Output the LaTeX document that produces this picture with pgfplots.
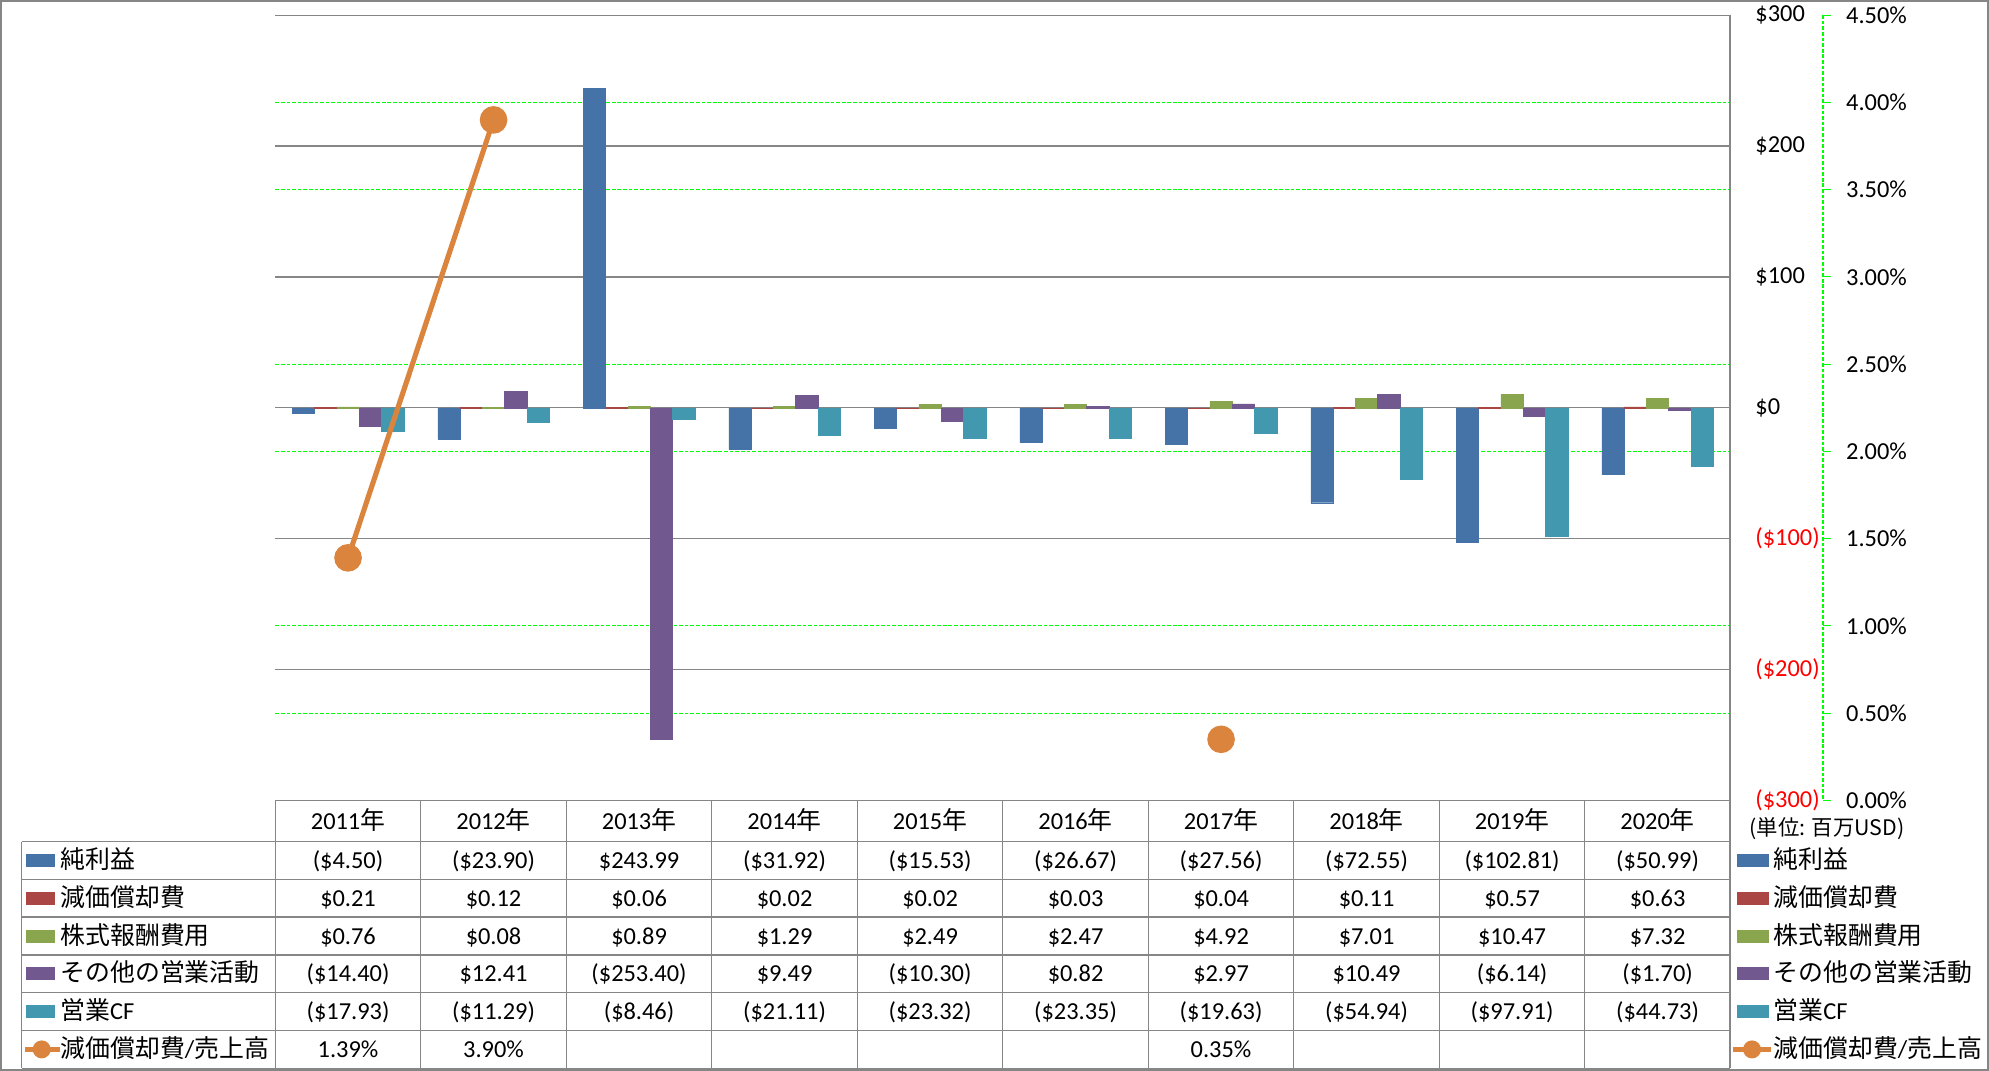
\documentclass[border=0pt]{standalone}
\usepackage{pgfplots}
\usepackage{pgfplotstable}
\pgfplotsset{compat=1.18}
\usepackage{fontspec}
\setmainfont{Carlito}
\newfontfamily\jp[Scale=1.02]{Noto Sans CJK JP}
\newcommand{\J}[1]{{\jp #1}}
\definecolor{cBlue}{HTML}{4572A7}
\definecolor{cRed}{HTML}{AA4643}
\definecolor{cGreen}{HTML}{89A54E}
\definecolor{cPurple}{HTML}{71588F}
\definecolor{cTeal}{HTML}{4198AF}
\definecolor{cOrange}{HTML}{DB843D}
\definecolor{cGray}{HTML}{868686}
\definecolor{cGrid}{HTML}{00FF00}

\pgfplotstableread{
x ni dep sbc oth ocf ratio
0 -4.50 0.21 0.76 -14.40 -17.93 1.39
1 -23.90 0.12 0.08 12.41 -11.29 3.90
2 243.99 0.06 0.89 -253.40 -8.46 nan
3 -31.92 0.02 1.29 9.49 -21.11 nan
4 -15.53 0.02 2.49 -10.30 -23.32 nan
5 -26.67 0.03 2.47 0.82 -23.35 nan
6 -27.56 0.04 4.92 2.97 -19.63 0.35
7 -72.55 0.11 7.01 10.49 -54.94 nan
8 -102.81 0.57 10.47 -6.14 -97.91 nan
9 -50.99 0.63 7.32 -1.70 -44.73 nan
}\data

\pgfplotsset{
  base/.style={at={(112.873pt,-328.164pt)}, anchor=south west, scale only axis,
    width=596.55pt, height=321.932pt, xmin=-0.5, xmax=9.5, xtick=\empty,
    axis line style={draw=none}, tick style={draw=none},
    /pgf/number format/assume math mode=true},
  bars/.style={ybar, bar width=0.1533, fill=#1, draw=#1, line width=0.2pt},
}
\newcommand{\tablerow}[2]{\foreach \v [count=\i from 0] in {#2} {\node[anchor=base, inner sep=0pt] at ({275.3+145.5*(\i+0.5)}, #1) {\v};}}

\begin{document}
\begin{tikzpicture}
\begin{scope}[x=0.41pt, y=-0.41pt]
\useasboundingbox (0,0) rectangle (1989,1071);
\end{scope}

% percent grid + labels
\begin{axis}[base, ymin=0, ymax=4.5,
  ytick={0,0.5,1,1.5,2,2.5,3,3.5,4,4.5},
  ymajorgrids, major grid style={cGrid, line width=0.45pt, dash pattern=on 1.5pt off 0.8pt},
  yticklabel pos=right,
  yticklabel style={anchor=west, inner sep=0pt, xshift=47.3pt},
  yticklabel={\pgfmathprintnumber[fixed,fixed zerofill,precision=2]{\tick}\%}]
\addplot[draw=none] coordinates {(0,0)};
\end{axis}

% bars
\begin{axis}[base, ymin=-300, ymax=300,
  ytick={-300,-200,-100,0,100,200,300},
  ymajorgrids, major grid style={cGray, line width=0.5pt},
  yticklabel pos=right,
  yticklabel style={anchor=west, inner sep=0pt, xshift=10.1pt},
  yticklabels={{\textcolor{red}{(\$300)}},{\textcolor{red}{(\$200)}},{\textcolor{red}{(\$100)}},{\$0},{\$100},{\$200},{\$300}}]
\addplot[bars=cBlue, bar shift=-0.3066] table[x=x,y=ni]{\data};
\addplot[bars=cRed, bar shift=-0.1533] table[x=x,y=dep]{\data};
\addplot[bars=cGreen, bar shift=0] table[x=x,y=sbc]{\data};
\addplot[bars=cPurple, bar shift=0.1533] table[x=x,y=oth]{\data};
\addplot[bars=cTeal, bar shift=0.3066] table[x=x,y=ocf]{\data};
\end{axis}

% ratio line
\begin{axis}[base, ymin=0, ymax=4.5, hide axis, clip=false]
\addplot[cOrange, line width=2.1pt, mark=*, mark size=4.6pt,
  mark options={draw=none, fill=cOrange}, unbounded coords=jump]
  table[x=x,y=ratio]{\data};
\end{axis}

\begin{scope}[x=0.41pt, y=-0.41pt]
\tikzset{tbl/.style={cGray, line width=0.5pt}}
% outer border
\draw[cGray, line width=0.6pt] (1,1) rectangle (1988,1070);
% table lines
\draw[tbl] (275.3,800.4) -- (1730.3,800.4);
\foreach \y in {841.5,879.3,917.1,954.9,992.7,1030.5,1068.3} \draw[tbl] (21.5,\y) -- (1730.3,\y);
\draw[tbl] (21.5,841.5) -- (21.5,1068.3);
\foreach \k in {0,...,9} \draw[tbl] ({275.3+145.5*\k},800.4) -- ({275.3+145.5*\k},1068.3);
\draw[cGray, line width=0.7pt] (1730.3,15.2) -- (1730.3,1068.3);
% secondary axis line
\draw[cGrid, line width=0.45pt, dash pattern=on 1.5pt off 0.8pt] (1823,15.2) -- (1823,800.4);
\foreach \k in {0,...,9} \draw[cGrid, line width=0.45pt] (1823,{800.4-87.244*\k}) -- (1831,{800.4-87.244*\k});
% header
\foreach \yr [count=\i from 0] in {2011,2012,2013,2014,2015,2016,2017,2018,2019,2020}
  \node[anchor=base, inner sep=0pt] at ({275.3+145.5*(\i+0.5)}, 829) {\yr\J{年}};
% rows
\tablerow{868.4}{(\$4.50),(\$23.90),\$243.99,(\$31.92),(\$15.53),(\$26.67),(\$27.56),(\$72.55),(\$102.81),(\$50.99)}
\tablerow{906.2}{\$0.21,\$0.12,\$0.06,\$0.02,\$0.02,\$0.03,\$0.04,\$0.11,\$0.57,\$0.63}
\tablerow{944.0}{\$0.76,\$0.08,\$0.89,\$1.29,\$2.49,\$2.47,\$4.92,\$7.01,\$10.47,\$7.32}
\tablerow{981.8}{(\$14.40),\$12.41,(\$253.40),\$9.49,(\$10.30),\$0.82,\$2.97,\$10.49,(\$6.14),(\$1.70)}
\tablerow{1019.6}{(\$17.93),(\$11.29),(\$8.46),(\$21.11),(\$23.32),(\$23.35),(\$19.63),(\$54.94),(\$97.91),(\$44.73)}
\node[anchor=base, inner sep=0pt] at ({275.3+145.5*0.5}, 1057.4) {1.39\%};
\node[anchor=base, inner sep=0pt] at ({275.3+145.5*1.5}, 1057.4) {3.90\%};
\node[anchor=base, inner sep=0pt] at ({275.3+145.5*6.5}, 1057.4) {0.35\%};
% legend keys (left and right)
\foreach \c/\col/\lab in {860.4/cBlue/純利益, 898.2/cRed/減価償却費, 936.0/cGreen/株式報酬費用, 973.8/cPurple/その他の営業活動}{
  \fill[\col] (26,\c-6.5) rectangle (55,\c+6.5);
  \node[anchor=base west, inner sep=0pt] at (60,\c+8) {\J{\lab}};
  \fill[\col] (1737,\c-6.5) rectangle (1769,\c+6.5);
  \node[anchor=base west, inner sep=0pt] at (1773,\c+8) {\J{\lab}};
}
\fill[cTeal] (26,1005.1) rectangle (55,1018.1);
\node[anchor=base west, inner sep=0pt] at (60,1019.6) {\J{営業}CF};
\fill[cTeal] (1737,1005.1) rectangle (1769,1018.1);
\node[anchor=base west, inner sep=0pt] at (1773,1019.6) {\J{営業}CF};
\draw[cOrange, line width=2.1pt] (25,1049.4) -- (60,1049.4);
\fill[cOrange] (41.7,1049.4) circle[radius=9];
\node[anchor=base west, inner sep=0pt] at (60,1057.4) {\J{減価償却費}/\J{売上高}};
\draw[cOrange, line width=2.1pt] (1733,1049.4) -- (1771,1049.4);
\fill[cOrange] (1752,1049.4) circle[radius=9];
\node[anchor=base west, inner sep=0pt] at (1773,1057.4) {\J{減価償却費}/\J{売上高}};
% unit
\node[anchor=west, inner sep=0pt, font=\jp\fontsize{8.6pt}{10pt}\selectfont] at (1749,829) {(単位: 百万USD)};
\end{scope}
\end{tikzpicture}
\end{document}
